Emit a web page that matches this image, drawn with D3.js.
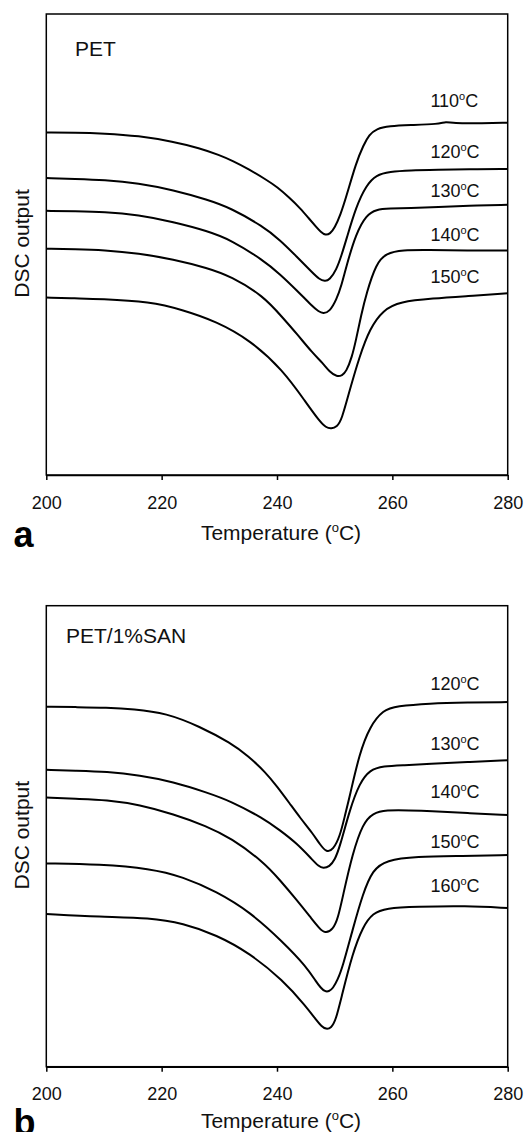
<!DOCTYPE html>
<html><head><meta charset="utf-8">
<script src="https://cdn.jsdelivr.net/npm/d3@7"></script>
<style>
html,body{margin:0;padding:0;background:#fff;}
svg{display:block;font-family:"Liberation Sans",Arial,Helvetica,sans-serif;}
</style></head>
<body>
<svg id="chart" width="524" height="1132"></svg>
<script>
// ---------- data (x = temperature in °C, y = DSC output, arbitrary units) ----------
const xTicks = [200, 220, 240, 260, 280];

const panelATitle = "PET";
const panelALabels = ["110", "120", "130", "140", "150"];
const panelALabelPos = [79.8, 68.7, 60.2, 50.8, 41.6];

const petA110 = [[200,74.3],[205,74.3],[210,74.1],[216,73.6],[222,72.3],[226.6,70.9],[230,69.4],[232.4,68.1],[235,66.4],[238.2,64.0],[240,62.5],[242.2,60.1],[244,57.9],[245.5,55.7],[246.8,53.8],[247.6,52.7],[248.4,52.0],[249.2,52.3],[250,53.6],[251,56.4],[252,60.3],[253.7,67.7],[255,71.6],[256,73.8],[257.2,75.1],[259.5,75.7],[263,75.9],[268,76.1],[269.3,76.7],[270.5,76.3],[275,76.3],[280,76.4]];
const petA120 = [[200,64.4],[205,64.2],[210,64.0],[216,63.3],[222,61.8],[228,59.7],[232,57.9],[237.6,53.9],[240.5,51.0],[243.4,47.4],[246.2,43.8],[247.3,42.5],[248.3,42.0],[249.1,42.3],[250.3,44.5],[251.2,47.7],[252,51.0],[253.7,58.2],[255.5,62.9],[257.2,65.1],[259.5,65.8],[263,66.1],[268,66.2],[273,66.3],[280,66.4]];
const petA130 = [[200,57.3],[205,57.2],[210,57.1],[216,56.4],[222,54.9],[228,52.9],[232,51.0],[237.6,46.6],[240.5,43.6],[243.4,40.1],[246.2,36.5],[247.2,35.5],[248,35.0],[249.1,35.4],[250.3,38.0],[251.2,41.2],[252,45.2],[253.7,52.4],[255.5,56.4],[257.2,57.6],[259.5,57.8],[263,57.9],[268,58.1],[273,58.4],[280,58.6]];
const petA140 = [[200,49.1],[205,49.0],[210,48.8],[216,48.1],[222,46.8],[228,44.9],[232,43.1],[237.6,38.9],[241,34.1],[243.4,30.7],[246.2,26.4],[248,24.2],[249.1,22.4],[250.4,21.3],[251.3,21.6],[252,22.4],[253,25.6],[253.7,29.3],[254.6,34.7],[255.5,39.4],[257.2,45.9],[258.9,48.1],[261.8,48.8],[266,48.8],[273,48.7],[280,48.7]];
const petA150 = [[200,38.5],[205,38.3],[209.3,38.2],[218,37.6],[223.7,35.8],[229.5,33.3],[235.3,29.3],[241,22.8],[245.1,15.6],[247.4,11.6],[248.5,10.3],[249.4,10.0],[250.4,10.5],[251.2,11.9],[252.6,18.4],[254.3,25.7],[256.1,31.8],[258.4,35.8],[261.3,37.6],[267,38.3],[273,38.8],[280,39.4]];

const panelBTitle = "PET/1%SAN";
const panelBLabels = ["120", "130", "140", "150", "160"];
const panelBLabelPos = [81.7, 68.7, 58.2, 47.4, 38.0];

const sanB120 = [[200,78.1],[205,78.0],[210.5,77.9],[215.1,77.6],[220.8,76.7],[226.6,73.8],[232,70.2],[235,67.4],[238,63.9],[240,60.8],[242.2,57.1],[244,54.0],[246.2,50.6],[247.5,48.1],[248.6,46.5],[249.7,47.0],[250.9,49.9],[251.8,54.6],[252.6,58.6],[254.3,68.0],[256.1,73.8],[258.4,77.4],[260.7,78.2],[266.4,78.8],[273,79.0],[280,79.1]];
const sanB130 = [[200,64.4],[205,64.2],[210.5,64.0],[216.2,63.2],[222,61.8],[227.8,59.5],[232,57.6],[237.6,53.9],[240.5,51.3],[243.4,48.5],[246.2,44.8],[247.2,43.5],[248,43.0],[249.1,43.4],[250,44.8],[250.9,47.7],[252.6,55.7],[254.3,61.5],[256.1,64.4],[258.4,65.2],[262,65.4],[266.4,65.7],[273,66.1],[280,66.5]];
const sanB140 = [[200,58.4],[205,58.1],[210.5,57.9],[216.2,56.8],[222,54.8],[227.8,52.2],[232,49.6],[237.6,44.5],[240.5,40.5],[243.4,36.2],[246.2,31.8],[247.3,30.1],[248.3,28.9],[249.7,29.7],[250.6,32.3],[251.4,36.9],[253.1,46.3],[254.9,52.8],[256.6,55.0],[258.9,55.7],[263,55.6],[266.4,55.5],[273,55.0],[280,54.6]];
const sanB150 = [[200,44.1],[209.3,43.9],[218,43.0],[223.7,41.2],[229.5,38.0],[235.3,33.6],[241,27.1],[245.1,21.7],[246.8,18.4],[247.6,17.1],[248.3,16.3],[249,16.3],[249.7,17.0],[250.5,18.8],[251.4,21.7],[253.1,29.7],[254.9,37.6],[256.6,42.7],[258.9,44.8],[264.1,45.6],[272,45.7],[280,45.9]];
const sanB160 = [[200,33.1],[209.3,32.5],[218,32.3],[223.7,31.1],[229.5,28.6],[235.3,24.6],[241,18.8],[245.1,13.0],[246.8,10.1],[247.7,8.8],[248.5,8.1],[249.4,8.4],[250.2,10.1],[251.2,15.2],[253.1,24.6],[254.9,30.4],[256.6,33.3],[258.9,34.4],[264.1,34.7],[272.8,34.9],[280,34.4]];

const labelT = 266.6;

// ---------- drawing ----------
const svg = d3.select("#chart");
const L = 46.3, W = 461.4, H = 461;

function drawPanel(top, title, titleX, titleY, series, labels, labelPos, letter, letterY, xTitleGap) {
  const g = svg.append("g");
  const x = d3.scaleLinear().domain([200, 280]).range([L, L + W]);
  const y = d3.scaleLinear().domain([0, 100]).range([top + H, top]);

  g.append("rect").attr("x", L).attr("y", top).attr("width", W).attr("height", H)
    .attr("fill", "none").attr("stroke", "#000").attr("stroke-width", 1.5);

  const ax = g.append("g").attr("transform", `translate(0,${top + H})`)
    .call(d3.axisBottom(x).tickValues(xTicks).tickSize(5).tickSizeOuter(0).tickPadding(16));
  ax.select(".domain").attr("stroke", "#000").attr("stroke-width", 1.5);
  ax.selectAll(".tick line").attr("stroke", "#000").attr("stroke-width", 1.5);
  ax.selectAll(".tick text").attr("font-size", 18).attr("fill", "#111")
    .attr("font-family", '"Liberation Sans",Arial,sans-serif');

  const line = d3.line().x(d => x(d[0])).y(d => y(d[1])).curve(d3.curveBasis);
  series.forEach(s => {
    g.append("path").attr("d", line(s)).attr("fill", "none")
      .attr("stroke", "#000").attr("stroke-width", 2).attr("stroke-linejoin", "round");
  });

  labels.forEach((lab, i) => {
    const t = g.append("text").attr("x", x(labelT)).attr("y", y(labelPos[i]))
      .attr("font-size", 18).attr("fill", "#111");
    t.append("tspan").text(lab);
    t.append("tspan").text("o").attr("font-size", 11).attr("dy", -7);
    t.append("tspan").text("C").attr("font-size", 18).attr("dy", 7);
  });

  g.append("text").attr("x", titleX).attr("y", titleY).attr("font-size", 21)
    .attr("fill", "#111").text(title);

  g.append("text").attr("transform", `translate(29,${top + H / 2 - 1}) rotate(-90)`)
    .attr("text-anchor", "middle").attr("font-size", 21).attr("fill", "#111").text("DSC output");

  const xt = g.append("text").attr("x", L + W / 2 + 4).attr("y", top + H + xTitleGap)
    .attr("text-anchor", "middle").attr("font-size", 21).attr("fill", "#111");
  xt.append("tspan").text("Temperature (");
  xt.append("tspan").text("o").attr("font-size", 13).attr("dy", -8);
  xt.append("tspan").text("C)").attr("font-size", 21).attr("dy", 8);

  g.append("text").attr("x", 13.5).attr("y", letterY).attr("font-size", 36)
    .attr("font-weight", "bold").attr("fill", "#000").text(letter);
}

drawPanel(14, panelATitle, 75, 56,
  [petA110, petA120, petA130, petA140, petA150], panelALabels, panelALabelPos, "a", 546.7, 65);
drawPanel(605.7, panelBTitle, 66, 643.3,
  [sanB120, sanB130, sanB140, sanB150, sanB160], panelBLabels, panelBLabelPos, "b", 1134.6, 61);
</script>
</body></html>
